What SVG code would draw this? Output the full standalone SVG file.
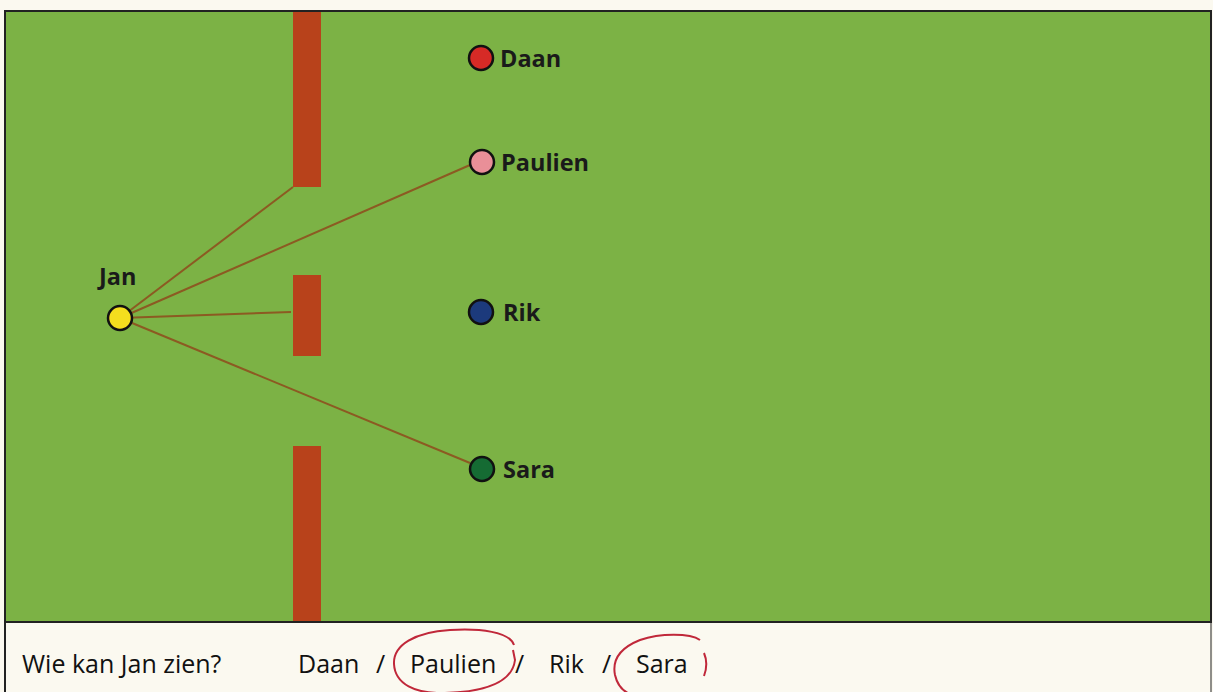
<svg xmlns="http://www.w3.org/2000/svg" width="1213" height="692" viewBox="0 0 1213 692">
<style>
.wall{fill:#b8421b}
.sight{stroke:#8c5a22;stroke-width:2;fill:none}
.dot{stroke:#111;stroke-width:2.5}
.lbl{font-family:"Open Sans","Liberation Sans",sans-serif;font-weight:bold;font-size:23.5px;fill:#1a1a1a}
.q{font-family:"Open Sans","Liberation Sans",sans-serif;font-size:25px;fill:#111}
.pen{stroke:#c0283a;stroke-width:2;fill:none}
</style>
<rect x="0" y="0" width="1213" height="692" fill="#fbf9f0"/>
<rect x="5" y="11" width="1206" height="611" fill="#7cb245" stroke="#222" stroke-width="2"/>
<line x1="5" y1="622" x2="5" y2="692" stroke="#222" stroke-width="2"/>
<line x1="1211" y1="622" x2="1211" y2="692" stroke="#222" stroke-width="1"/>
<g id="walls">
<rect class="wall" x="293" y="12" width="28" height="175"/>
<rect class="wall" x="293" y="275" width="28" height="81"/>
<rect class="wall" x="293" y="446" width="28" height="175"/>
</g>
<g id="connectors">
<line class="sight" x1="120" y1="318" x2="293" y2="187"/>
<line class="sight" x1="120" y1="318" x2="470" y2="165"/>
<line class="sight" x1="120" y1="318" x2="291" y2="312"/>
<line class="sight" x1="120" y1="318" x2="470" y2="463"/>
</g>
<g id="jan"><circle class="dot" cx="120" cy="318" r="12" fill="#f4de1e"/><text class="lbl" x="99" y="285">Jan</text></g>
<g id="daan"><circle class="dot" cx="481" cy="58" r="12" fill="#d62a26"/><text class="lbl" x="500" y="67">Daan</text></g>
<g id="paulien"><circle class="dot" cx="482" cy="162" r="12" fill="#e98f98"/><text class="lbl" x="501" y="171">Paulien</text></g>
<g id="rik"><circle class="dot" cx="481" cy="312" r="12" fill="#1c3a7c"/><text class="lbl" x="503" y="321">Rik</text></g>
<g id="sara"><circle class="dot" cx="482" cy="469" r="12" fill="#156b33"/><text class="lbl" x="503" y="478">Sara</text></g>
<g id="question">
<text class="q" x="22" y="673">Wie kan Jan zien?</text>
<text class="q" x="298" y="673">Daan</text>
<text class="q" x="376" y="673">/</text>
<text class="q" x="410" y="673">Paulien</text>
<text class="q" x="515" y="673">/</text>
<text class="q" x="549" y="673">Rik</text>
<text class="q" x="602" y="673">/</text>
<text class="q" x="636" y="673">Sara</text>
</g>
<g id="answers">
<path class="pen" d="M514 645 C510 632 480 628 450 630 C415 632 393 645 394 664 C395 684 415 694 445 693 C480 692 512 685 515 660 L513 650"/>
<path class="pen" d="M700 640 C690 633 660 633 640 640 C620 648 612 660 615 675 C618 688 625 692 630 694"/>
<path class="pen" d="M704 653 C707 660 707 668 704 676"/>
</g>
</svg>
